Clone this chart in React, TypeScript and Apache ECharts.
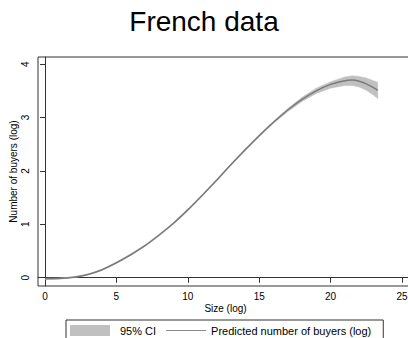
import React, { useEffect, useRef } from "react";
import * as echarts from "echarts";

const sizes = [0, 1, 2, 3, 4, 5, 6, 7, 8, 9, 10, 11, 12, 13, 14, 15, 16, 17, 18, 19, 20, 21, 21.5, 22, 22.5, 23, 23.3];
const predicted = [-0.02, -0.015, 0.01, 0.06, 0.15, 0.28, 0.43, 0.6, 0.8, 1.02, 1.27, 1.54, 1.82, 2.11, 2.39, 2.66, 2.91, 3.14, 3.34, 3.5, 3.62, 3.69, 3.7, 3.68, 3.63, 3.56, 3.51];
const ciLow = [-0.03, -0.025, 0, 0.05, 0.14, 0.27, 0.42, 0.585, 0.785, 1.005, 1.255, 1.525, 1.805, 2.095, 2.37, 2.64, 2.89, 3.11, 3.3, 3.45, 3.55, 3.6, 3.6, 3.57, 3.51, 3.42, 3.35];
const ciHigh = [-0.01, -0.005, 0.02, 0.07, 0.16, 0.29, 0.44, 0.615, 0.815, 1.035, 1.285, 1.555, 1.835, 2.125, 2.41, 2.68, 2.93, 3.17, 3.38, 3.55, 3.67, 3.76, 3.78, 3.77, 3.74, 3.69, 3.66];
const xTicks = [0, 5, 10, 15, 20, 25];
const yTicks = [0, 1, 2, 3, 4];

const FONT = "Liberation Sans";
const BAND = "#c0c0c0";
const LINE = "#7a7a7a";

export default function App() {
  const ref = useRef<HTMLDivElement>(null);
  useEffect(() => {
    if (!ref.current) return;
    const chart = echarts.init(ref.current, undefined, { renderer: "svg" });
    const predPairs = sizes.map((x, i) => [x, predicted[i]]);
    chart.setOption({
      animation: false,
      backgroundColor: "#fff",
      title: {
        text: "French data",
        left: "center",
        top: 2,
        textStyle: { fontFamily: FONT, fontSize: 28, fontWeight: "normal", color: "#000" },
      },
      grid: {
        left: 38,
        top: 57,
        width: 375,
        height: 229,
        show: true,
        borderColor: "#333",
        borderWidth: 1,
        outerBoundsMode: "none",
      },
      legend: {
        left: 66,
        top: 320,
        orient: "horizontal",
        itemWidth: 40,
        itemHeight: 11,
        itemGap: 10,
        padding: [5, 12, 5, 4],
        borderColor: "#333",
        borderWidth: 1,
        borderRadius: 0,
        textStyle: { fontFamily: FONT, fontSize: 11, color: "#000" },
        data: [
          { name: "95% CI", icon: "rect", itemStyle: { color: BAND }, textStyle: { padding: [0, 0, 0, 5] } },
          { name: "Predicted number of buyers (log)", icon: "path://M0,0 H40 V1.2 H0 Z", itemStyle: { color: "#8a8a8a" } },
        ],
      },
      xAxis: {
        type: "value",
        min: -0.49,
        max: 25.77,
        name: "Size (log)",
        nameLocation: "middle",
        nameGap: 17,
        nameMoveOverlap: false,
        nameTextStyle: { fontFamily: FONT, fontSize: 10, color: "#000" },
        axisLine: { show: true, lineStyle: { color: "#333", width: 1 } },
        axisTick: { show: true, customValues: xTicks, length: 5, lineStyle: { color: "#333" } },
        axisLabel: { customValues: xTicks, margin: 5, fontFamily: FONT, fontSize: 10, color: "#000" },
        splitLine: { show: false },
      },
      yAxis: {
        type: "value",
        min: -0.155,
        max: 4.133,
        name: "Number of buyers (log)",
        nameLocation: "middle",
        nameGap: 20,
        nameRotate: 90,
        nameMoveOverlap: false,
        nameTextStyle: { fontFamily: FONT, fontSize: 10, color: "#000" },
        axisLine: { show: true, lineStyle: { color: "#333", width: 1 } },
        axisTick: { show: true, customValues: yTicks, length: 5, lineStyle: { color: "#333" } },
        axisLabel: { customValues: yTicks, rotate: 90, margin: 8, fontFamily: FONT, fontSize: 10, color: "#000" },
        splitLine: { show: false },
      },
      series: [
        {
          name: "95% CI",
          type: "custom",
          data: [[0, 0]],
          itemStyle: { color: BAND },
          silent: true,
          clip: true,
          renderItem: (params: any, api: any) => {
            const upper = sizes.map((x, i) => api.coord([x, ciHigh[i]]));
            const lower = sizes.map((x, i) => api.coord([x, ciLow[i]])).reverse();
            return {
              type: "polygon",
              shape: { points: upper.concat(lower) },
              style: { fill: BAND, stroke: BAND, lineWidth: 0.5 },
            };
          },
        },
        {
          name: "Predicted number of buyers (log)",
          type: "line",
          data: predPairs,
          symbol: "none",
          smooth: 0.3,
          color: LINE,
          lineStyle: { color: LINE, width: 1.5 },
        },
      ],
    });
    return () => chart.dispose();
  }, []);
  return <div ref={ref} style={{ width: 408, height: 338, position: "absolute", left: 0, top: 0 }} />;
}
